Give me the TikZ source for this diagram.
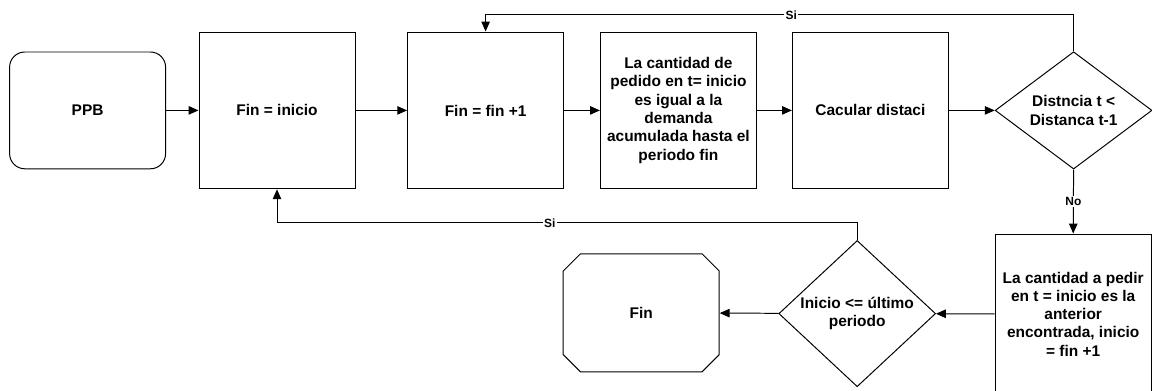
\documentclass[tikz,border=0pt]{standalone}
\usepackage{fontspec}
\setmainfont{Liberation Sans}
\usetikzlibrary{arrows.meta,shapes.geometric,shapes.misc}
\begin{document}
\begin{tikzpicture}[line width=0.7pt, line join=miter, font=\fontsize{11}{13}\selectfont\bfseries, >={Triangle[length=7pt,width=6pt]},
 proc/.style={draw, align=center, inner sep=2pt, minimum width=3.9cm, minimum height=3.92cm},
 term/.style={proc, rounded corners=0.38cm, minimum height=2.92cm},
 cond/.style={draw, diamond, align=center, inner sep=0pt, minimum width=3.92cm, minimum height=2.9cm},
 stopbox/.style={draw, chamfered rectangle, chamfered rectangle xsep=0.4cm, chamfered rectangle ysep=0.4cm, inner sep=0pt, minimum width=3.9cm, minimum height=2.95cm},
 lbl/.style={fill=white, inner sep=1pt, font=\fontsize{8.5}{10}\selectfont\bfseries}]
 \useasboundingbox (0,0) rectangle (28.8,9.75);
 \node[term] (ppb) at (2.19,6.99) {PPB};
 \node[proc] (fini) at (6.925,6.99) {Fin = inicio};
 \node[proc] (finmas) at (12.14,6.99) {Fin = fin +1};
 \node[proc] (cantped) at (16.96,6.99) {La cantidad de\\pedido en t= inicio\\es igual a la\\demanda\\acumulada hasta el\\periodo fin};
 \node[proc] (calc) at (21.76,6.99) {Cacular distaci};
 \node[cond] (dec1) at (26.84,6.99) {Distncia t <\\Distanca t-1};
 \node[proc, minimum height=4cm] (cantpedir) at (26.83,1.9) {La cantidad a pedir\\en t = inicio es la\\anterior\\encontrada, inicio\\= fin +1};
 \node[cond] (dec2) at (21.43,1.91) {Inicio <= último\\periodo};
 \node[stopbox] (fin) at (16.03,1.93) {Fin};
 \foreach \a/\b in {ppb/fini, fini/finmas, finmas/cantped, cantped/calc, calc/dec1, cantpedir/dec2, dec2/fin}
 \draw[->] (\a) -- (\b);
 \draw[->] (dec1.north) -- ++(0,0.91) -| node[lbl, pos=0.24] {Si} (finmas.north);
 \draw[->] (dec1.south) -- node[lbl] {No} (cantpedir.north);
 \draw[->] (dec2.north) -- ++(0,0.43) -| node[lbl, pos=0.265] {Si} (fini.south);
\end{tikzpicture}
\end{document}
